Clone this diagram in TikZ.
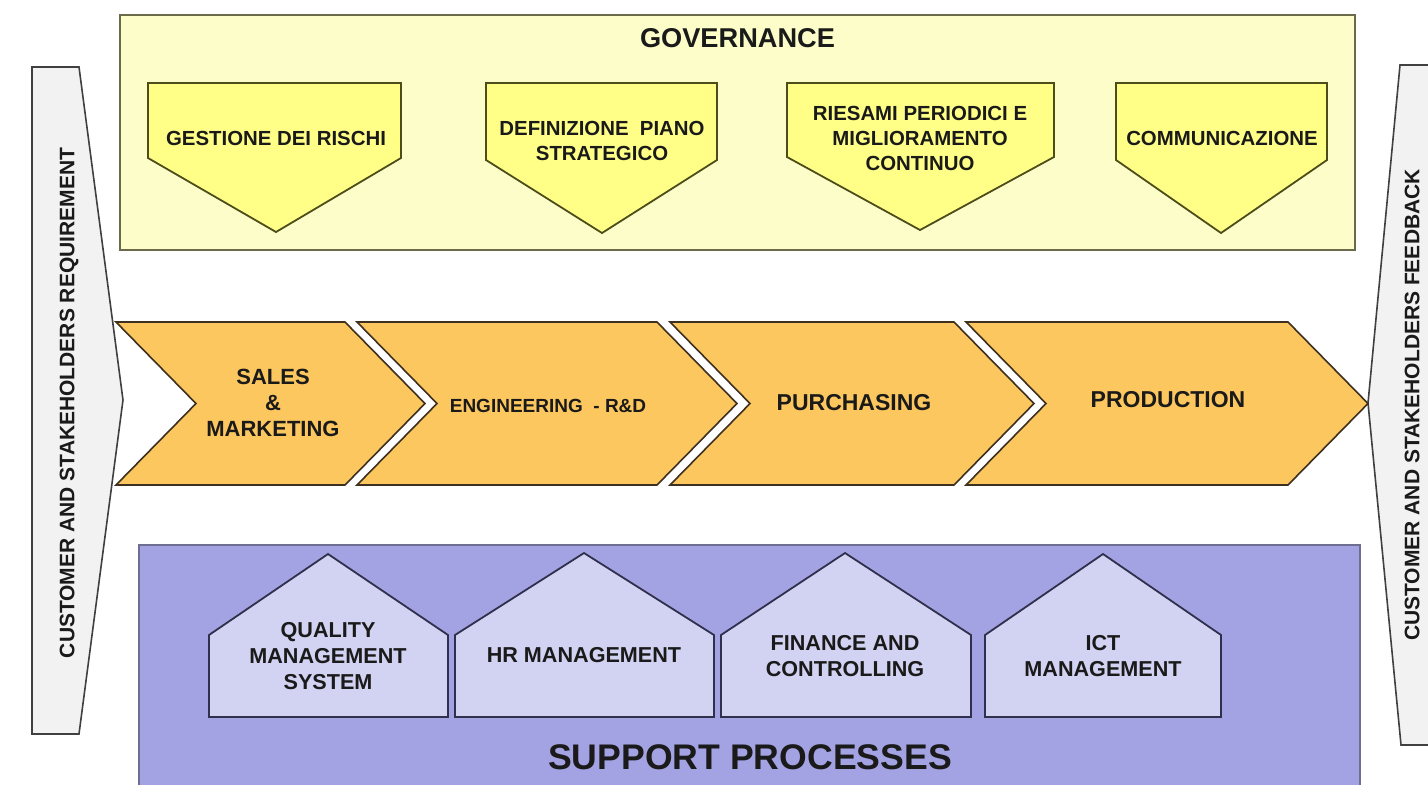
\documentclass[tikz,border=0pt]{standalone}
\usepackage{fontspec}
\setmainfont{Liberation Sans}
\definecolor{govfill}{HTML}{FDFDC9}
\definecolor{govline}{HTML}{6B6B4B}
\definecolor{penfill}{HTML}{FFFF88}
\definecolor{penline}{HTML}{4D4D1A}
\definecolor{chevfill}{HTML}{FCC75E}
\definecolor{chevline}{HTML}{3D3020}
\definecolor{supfill}{HTML}{A3A3E3}
\definecolor{supline}{HTML}{6E6E90}
\definecolor{housefill}{HTML}{D2D2F2}
\definecolor{houseline}{HTML}{30304D}
\definecolor{barfill}{HTML}{F2F2F2}
\definecolor{barline}{HTML}{404040}
\definecolor{txt}{HTML}{1A1A1A}
\begin{document}
\begin{tikzpicture}[x=0.5pt,y=-0.5pt,line join=miter,
  govbox/.style={fill=govfill,draw=govline,line width=1.3pt},
  pent/.style={fill=penfill,draw=penline,line width=0.9pt},
  chev/.style={fill=chevfill,draw=chevline,line width=0.8pt},
  supbox/.style={fill=supfill,draw=supline,line width=1.2pt},
  house/.style={fill=housefill,draw=houseline,line width=0.9pt},
  barshape/.style={fill=barfill,draw=barline,line width=0.8pt},
  lbl/.style={inner sep=0pt,align=center,text=txt},
  ptext/.style={lbl,font=\fontsize{10.2}{12.5}\selectfont\bfseries},
  ctext/.style={lbl,font=\fontsize{11}{13}\selectfont\bfseries},
  htext/.style={lbl,font=\fontsize{10.8}{13}\selectfont\bfseries},
  bartext/.style={lbl,font=\fontsize{10.5}{12}\selectfont\bfseries,rotate=90},
  bigtitle/.style={lbl,font=\fontsize{13.6}{16}\selectfont\bfseries}]
\useasboundingbox (0,0) rectangle (1428,784);
\clip (0,0) rectangle (1428,784);

% side bars
\draw[barshape] (32,67) -- (79,67) -- (123,400) -- (79,734) -- (32,734) -- cycle;
\node[bartext] (lbar) at (69,403) {CUSTOMER AND STAKEHOLDERS REQUIREMENT};
\draw[barshape] (1400,65) -- (1440,65) -- (1440,745) -- (1401,745) -- (1368,403) -- cycle;
\node[bartext] (rbar) at (1412,405) {CUSTOMER AND STAKEHOLDERS FEEDBACK};

% governance
\draw[govbox] (120,15) rectangle (1355,250);
\node[bigtitle] (govtitle) at (737.5,38) {GOVERNANCE};
\draw[pent] (148,83) -- (401,83) -- (401,158) -- (276,232) -- (148,158) -- cycle;
\draw[pent] (486,83) -- (717,83) -- (717,160) -- (602,233) -- (486,160) -- cycle;
\draw[pent] (787,83) -- (1054,83) -- (1054,157) -- (920,230) -- (787,157) -- cycle;
\draw[pent] (1116,83) -- (1327,83) -- (1327,160) -- (1221,233) -- (1116,160) -- cycle;
\node[ptext] (g1) at (276,138) {GESTIONE DEI RISCHI};
\node[ptext] (g2) at (602,141) {DEFINIZIONE\ \ PIANO\\STRATEGICO};
\node[ptext] (g3) at (920,138) {RIESAMI PERIODICI E\\MIGLIORAMENTO\\CONTINUO};
\node[ptext] (g4) at (1222,138) {COMMUNICAZIONE};

% value chain
\draw[chev] (116,322) -- (345,322) -- (425,403.5) -- (345,485) -- (116,485) -- (196,403.5) -- cycle;
\draw[chev] (357,322) -- (657,322) -- (737,403.5) -- (657,485) -- (357,485) -- (437,403.5) -- cycle;
\draw[chev] (670,322) -- (954,322) -- (1034,403.5) -- (954,485) -- (670,485) -- (750,403.5) -- cycle;
\draw[chev] (966,322) -- (1288,322) -- (1368,403.5) -- (1288,485) -- (966,485) -- (1046,403.5) -- cycle;
\node[ctext] (c1) at (273,403) {SALES\\\&\\MARKETING};
\node[lbl,font=\fontsize{9.5}{12}\selectfont\bfseries] (c2) at (548,406) {ENGINEERING\ \ - R\&D};
\node[ctext,font=\fontsize{11.5}{13}\selectfont\bfseries] (c3) at (854,403) {PURCHASING};
\node[ctext,font=\fontsize{11.5}{13}\selectfont\bfseries] (c4) at (1168,400) {PRODUCTION};

% support
\draw[supbox] (139,545) rectangle (1360,800);
\node[lbl,font=\fontsize{17.8}{20}\selectfont\bfseries] (suptitle) at (750,757) {SUPPORT PROCESSES};
\draw[house] (209,717) -- (209,635) -- (328,554) -- (448,635) -- (448,717) -- cycle;
\draw[house] (455,717) -- (455,635) -- (584,553) -- (714,635) -- (714,717) -- cycle;
\draw[house] (721,717) -- (721,635) -- (845,553) -- (971,635) -- (971,717) -- cycle;
\draw[house] (985,717) -- (985,635) -- (1103,554) -- (1221,635) -- (1221,717) -- cycle;
\node[htext] (h1) at (328,656) {QUALITY\\MANAGEMENT\\SYSTEM};
\node[htext] (h2) at (584,655) {HR MANAGEMENT};
\node[htext] (h3) at (845,656) {FINANCE AND\\CONTROLLING};
\node[htext] (h4) at (1103,656) {ICT\\MANAGEMENT};
\end{tikzpicture}
\end{document}
